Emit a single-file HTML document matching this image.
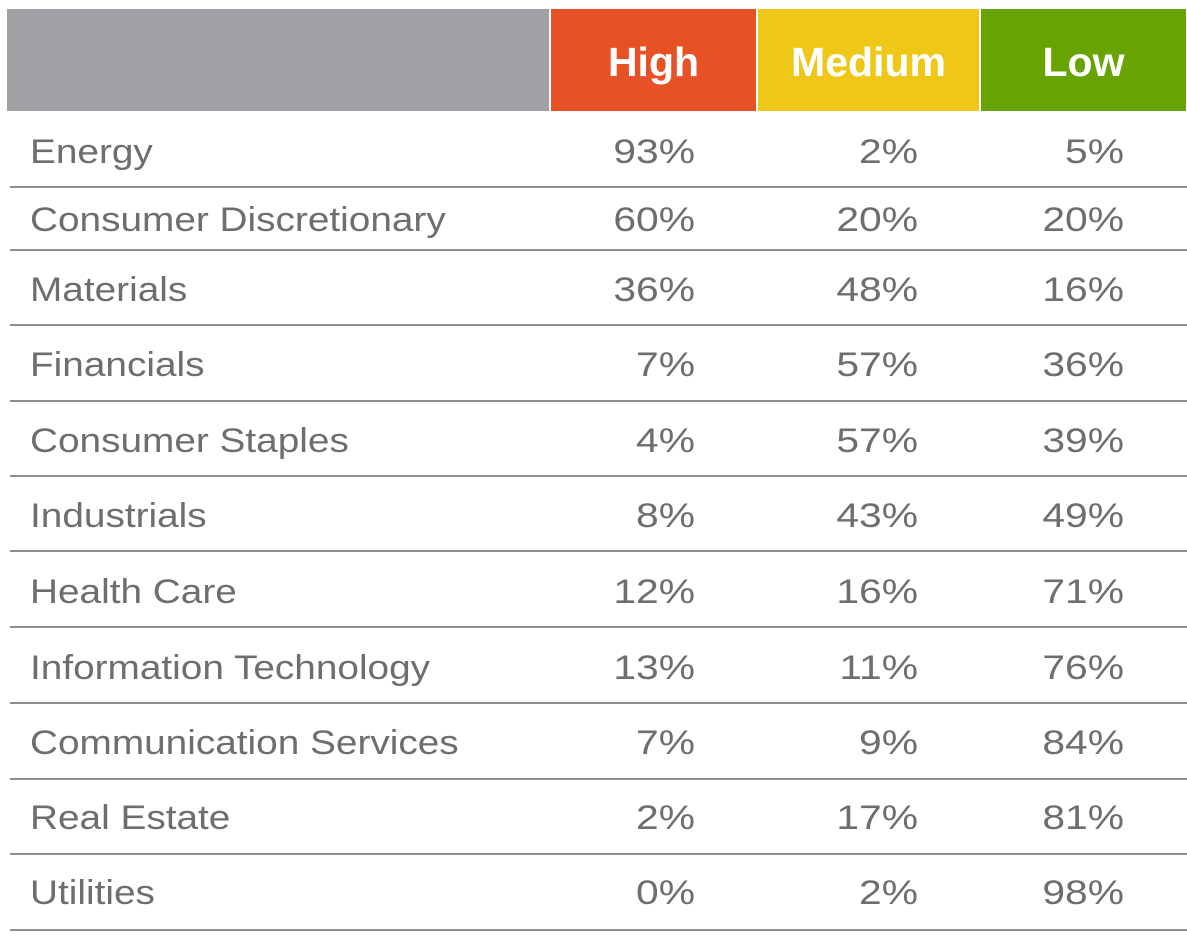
<!DOCTYPE html>
<html><head><style>
body{margin:0;width:1187px;height:941px;background:#fff;position:relative;font-family:"Liberation Sans",sans-serif;overflow:hidden}
.h{position:absolute;top:9px;height:102px;color:#fff;font-weight:bold;font-size:41px;line-height:106px;text-align:center}
.t{position:absolute;color:#6e6e6f;font-size:34px;line-height:40px;white-space:nowrap;transform:scaleX(1.14);transform-origin:left center}
.n{position:absolute;color:#6e6e6f;font-size:34px;line-height:40px;text-align:right;width:150px;transform:scaleX(1.2);transform-origin:right center}
.l{position:absolute;left:10px;width:1177px;height:2px;background:#8e8e8e}
</style></head><body>
<div class="h" style="left:7px;width:542px;background:#a1a0a5"></div>
<div class="h" style="left:551px;width:205px;background:#e65126">High</div>
<div class="h" style="left:758px;width:221px;background:#efc716">Medium</div>
<div class="h" style="left:981px;width:205px;background:#67a402">Low</div>
<div id="rows"></div>
<script>
var d=[["Energy",93,2,5,152],["Consumer Discretionary",60,20,20,220],["Materials",36,48,16,290],["Financials",7,57,36,365],["Consumer Staples",4,57,39,441],["Industrials",8,43,49,516],["Health Care",12,16,71,592],["Information Technology",13,11,76,668],["Communication Services",7,9,84,743],["Real Estate",2,17,81,818],["Utilities",0,2,98,893]];
var L=[187,250,325,401,476,551,627,703,779,854,930],h="";
d.forEach(function(r,i){var y=r[4]-20;
h+='<div class="t" style="left:30px;top:'+y+'px">'+r[0]+'</div>';
h+='<div class="n" style="left:545px;top:'+y+'px">'+r[1]+'%</div>';
h+='<div class="n" style="left:768px;top:'+y+'px">'+r[2]+'%</div>';
h+='<div class="n" style="left:974px;top:'+y+'px">'+r[3]+'%</div>';
h+='<div class="l" style="top:'+(L[i]-1)+'px"></div>';});
document.getElementById("rows").innerHTML=h;
</script>
</body></html>
